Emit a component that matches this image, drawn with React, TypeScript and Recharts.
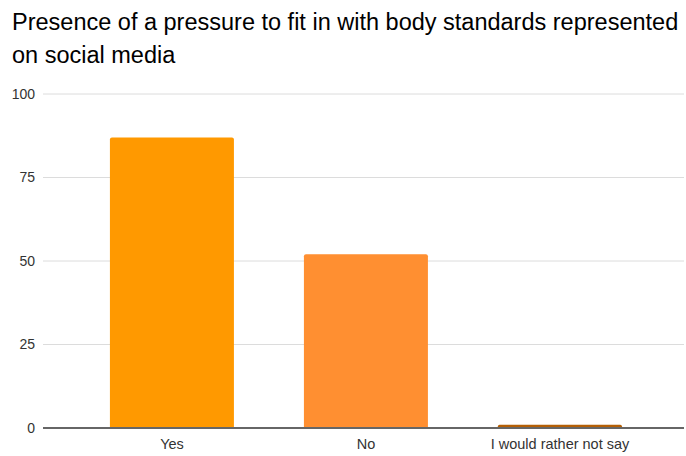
import { BarChart, Bar, XAxis, YAxis, CartesianGrid, Cell } from 'recharts';

const answers = ['Yes', 'No', 'I would rather not say'];
const respondents = [87, 52, 1];
const barColors = ['#ff9900', '#ff8f31', '#b45f06'];
const yTicks = [0, 25, 50, 75, 100];

const data = answers.map((answer, i) => ({ answer, count: respondents[i] }));

const font = '"Liberation Sans", Arial, sans-serif';

export default function App() {
  return (
    <div style={{ position: 'absolute', left: 0, top: 0, width: 686, height: 456, background: '#fff', fontFamily: font }}>
      <div style={{ position: 'absolute', left: 12, top: 6, fontSize: 23.5, lineHeight: '33px', color: '#000', whiteSpace: 'nowrap' }}>
        <div>Presence of a pressure to fit in with body standards represented</div>
        <div>on social media</div>
      </div>
      <BarChart
        width={686}
        height={456}
        data={data}
        margin={{ top: 94, right: 2, left: 0, bottom: 0 }}
        barCategoryGap="18%"
      >
        <CartesianGrid stroke="#dcdcdc" vertical={false} />
        <XAxis
          dataKey="answer"
          height={28}
          padding={{ left: 32, right: 27 }}
          tick={{ fill: '#333', fontSize: 14.5, fontFamily: font }}
          axisLine={{ stroke: '#666', strokeWidth: 2 }}
          tickLine={false}
          tickMargin={5}
        />
        <YAxis
          width={43}
          domain={[0, 100]}
          ticks={yTicks}
          tick={{ fill: '#333', fontSize: 14, fontFamily: font }}
          axisLine={false}
          tickLine={false}
          tickMargin={2}
        />
        <Bar dataKey="count" radius={[2, 2, 0, 0]} isAnimationActive={false}>
          {data.map((d, i) => (
            <Cell key={d.answer} fill={barColors[i]} />
          ))}
        </Bar>
      </BarChart>
    </div>
  );
}
